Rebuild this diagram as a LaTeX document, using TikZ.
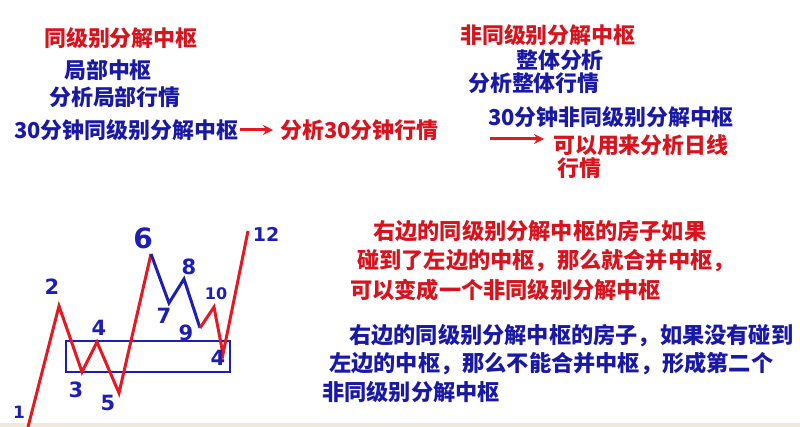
\documentclass[tikz,border=0pt]{standalone}
\usepackage{fontspec}
\usetikzlibrary{arrows.meta}
\newfontfamily\cjk{Noto Sans CJK SC}
\newfontfamily\hand{DejaVu Sans}
\definecolor{tred}{RGB}{215,20,30}
\definecolor{tblue}{RGB}{25,25,165}
\definecolor{lred}{RGB}{230,25,35}
\definecolor{lblue}{RGB}{30,30,180}
\definecolor{strip}{RGB}{240,232,220}
\tikzset{
  rt/.style={text=tred, font=\cjk\bfseries\fontsize{21.9}{24}\selectfont, inner sep=0pt, anchor=west},
  bt/.style={text=tblue, font=\cjk\bfseries\fontsize{21.9}{24}\selectfont, inner sep=0pt, anchor=west},
  rs/.style={text=tred, font=\cjk\bfseries\fontsize{22.2}{24}\selectfont, inner sep=0pt, anchor=west},
  bs/.style={text=tblue, font=\cjk\bfseries\fontsize{22.2}{24}\selectfont, inner sep=0pt, anchor=west},
  lab/.style={text=lblue, font=\hand\bfseries\fontsize{21}{22}\selectfont, inner sep=0pt},
  redarrow/.style={draw=lred, line width=3pt, -{Stealth[length=10pt,width=10pt]}},
  redline/.style={draw=lred, line width=3pt, line join=miter},
  blueline/.style={draw=lblue, line width=3pt, line join=miter},
  boxline/.style={draw=lblue, line width=1.5pt}
}
\begin{document}
\begin{tikzpicture}[x=1pt,y=-1pt]
\useasboundingbox (0,0) rectangle (800,427);
\fill[white] (0,0) rectangle (800,427);
\fill[strip] (0,423) rectangle (800,427);

% top-left block
\node[rt] (t1) at (44,38) {同级别分解中枢};
\node[bt] (t2) at (64,70) {局部中枢};
\node[bt] (t3) at (49,97) {分析局部行情};
\node[bt] (t4) at (14,130) {30分钟同级别分解中枢};
\node[rt] (t5) at (280,130) {分析30分钟行情};
\draw[redarrow, shorten <=2pt, shorten >=7pt] (t4.east) -- (t5.west);

% top-right block
\node[rt] (u1) at (460,35) {非同级别分解中枢};
\node[bt] (u2) at (516,60) {整体分析};
\node[bt] (u3) at (468,83) {分析整体行情};
\node[bt] (u4) at (488,117) {30分钟非同级别分解中枢};
\node[rt] (u5) at (553,145) {可以用来分析日线};
\node[rt] (u6) at (557,168) {行情};
\coordinate (a2) at (490,139);
\draw[redarrow, shorten >=9pt] (a2) -- (a2 -| u5.west);

% bottom-right text
\node[rs] (r1) at (373,231) {右边的同级别分解中枢的房子如果};
\node[rs] (r2) at (357,261) {碰到了左边的中枢，那么就合并中枢，};
\node[rs] (r3) at (350,290) {可以变成一个非同级别分解中枢};
\node[bs] (b1) at (349,336) {右边的同级别分解中枢的房子，如果没有碰到};
\node[bs] (b2) at (329,364) {左边的中枢，那么不能合并中枢，形成第二个};
\node[bs] (b3) at (322,392) {非同级别分解中枢};

% chart
\coordinate (p1) at (28,427);
\coordinate (p2) at (59,306);
\coordinate (p3) at (82,372);
\coordinate (p4) at (97,342);
\coordinate (p5) at (119,393);
\coordinate (p6) at (151,254);
\coordinate (p7) at (169,303);
\coordinate (p8) at (184,279);
\coordinate (p9) at (200,328);
\coordinate (p10) at (214,307);
\coordinate (p11) at (223,354);
\coordinate (p12) at (248,231);
\draw[boxline] (66,341) rectangle (230,372);
\draw[redline] (p1) -- (p2) -- (p3) -- (p4) -- (p5) -- (p6);
\draw[blueline] (p6) -- (p7) -- (p8) -- (p9);
\draw[redline] (p9) -- (p10) -- (p11) -- (p12);

\node[lab, font=\hand\bfseries\fontsize{17}{18}\selectfont] (l1) at (19,412) {1};
\node[lab] (l2) at (52,287) {2};
\node[lab] (l3) at (76,390) {3};
\node[lab] (l4) at (99,328) {4};
\node[lab] (l5) at (108,403) {5};
\node[lab, font=\hand\bfseries\fontsize{28}{30}\selectfont] (l6) at (143,238) {6};
\node[lab] (l7) at (164,316) {7};
\node[lab] (l8) at (189,267) {8};
\node[lab] (l9) at (186,333) {9};
\node[lab, font=\hand\bfseries\fontsize{16}{17}\selectfont] (l10) at (216,294) {10};
\node[lab] (l11) at (218,358) {4};
\node[lab, font=\hand\bfseries\fontsize{19}{20}\selectfont] (l12) at (266,234) {12};
\end{tikzpicture}
\end{document}
